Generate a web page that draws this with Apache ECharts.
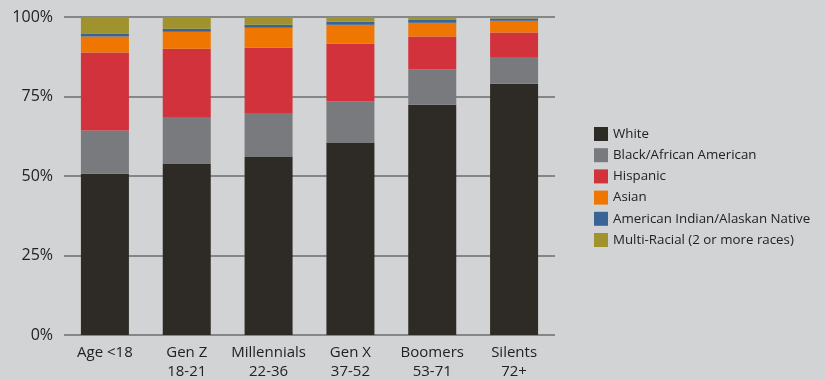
<!DOCTYPE html>
<html><head><meta charset="utf-8">
<script src="https://cdn.jsdelivr.net/npm/echarts@6/dist/echarts.min.js"></script>
<style>html,body{margin:0;padding:0;background:#d1d3d4;}#c{width:825px;height:379px;}</style>
</head><body><div id="c"></div>
<script>
const categories = ['Age <18', 'Gen Z\n18-21', 'Millennials\n22-36', 'Gen X\n37-52', 'Boomers\n53-71', 'Silents\n72+'];
const white = [50.7, 53.9, 56.0, 60.5, 72.4, 79.0];
const black = [13.6, 14.4, 13.6, 12.9, 11.1, 8.2];
const hispanic = [24.5, 21.7, 20.7, 18.2, 10.4, 7.9];
const asian = [5.1, 5.4, 6.3, 6.0, 4.3, 3.7];
const amIndian = [0.9, 0.9, 1.0, 0.9, 1.0, 0.7];
const multiRacial = [5.2, 3.7, 2.8, 1.5, 1.2, 0.5];
const yTicks = [0, 25, 50, 75, 100];

const seriesDefs = [
  ['White', white, '#2e2b26'],
  ['Black/African American', black, '#797a7e'],
  ['Hispanic', hispanic, '#d2323b'],
  ['Asian', asian, '#ef7600'],
  ['American Indian/Alaskan Native', amIndian, '#3a6396'],
  ['Multi-Racial (2 or more races)', multiRacial, '#a0922c']
];
const font = '"Open Sans", "Noto Sans", sans-serif';
const chart = echarts.init(document.getElementById('c'));
chart.setOption({
  backgroundColor: '#d1d3d4',
  animation: false,
  grid: {left: 64, right: 270, top: 17, bottom: 44, containLabel: false, outerBoundsMode: 'none'},
  legend: {
    orient: 'vertical', left: 594, top: 127, padding: 0,
    itemWidth: 14, itemHeight: 14, itemGap: 7.2,
    icon: 'rect',
    textStyle: {fontFamily: font, fontSize: 13.3, color: '#222'},
    data: seriesDefs.map(d => d[0])
  },
  xAxis: {
    type: 'category', data: categories,
    axisLine: {show: false}, axisTick: {show: false},
    axisLabel: {fontFamily: font, fontSize: 15, color: '#222', lineHeight: 19, margin: 8, interval: 0}
  },
  yAxis: {
    type: 'value', min: 0, max: 100, interval: 25,
    axisLabel: {fontFamily: font, fontSize: 16, color: '#222', margin: 11,
      formatter: v => yTicks.includes(v) ? v + '%' : ''},
    splitLine: {lineStyle: {color: '#6b6c6e', width: 1.6}},
    axisLine: {show: false}, axisTick: {show: false}
  },
  series: seriesDefs.map(d => ({
    name: d[0], type: 'bar', stack: 'all', data: d[1], barWidth: 48,
    itemStyle: {color: d[2]}, z: 3
  }))
});
</script></body></html>
